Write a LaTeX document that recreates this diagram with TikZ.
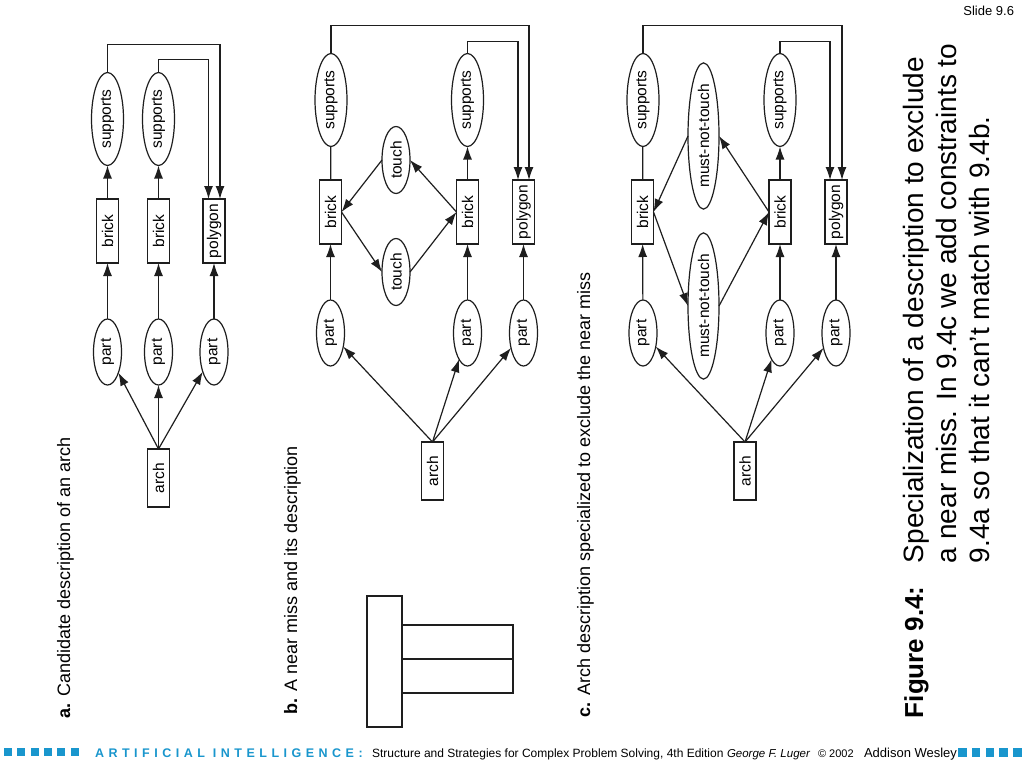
\documentclass[tikz,border=0pt]{standalone}
\usepackage{fontspec}
\setmainfont{Liberation Sans}
\usetikzlibrary{shapes.geometric,arrows.meta}
\definecolor{aiblue}{RGB}{25,150,205}
\definecolor{ln}{RGB}{30,30,30}
\newcommand{\fsz}[1]{\fontsize{#1}{#1}\selectfont}
\begin{document}
\begin{tikzpicture}[x=1pt,y=-1pt,
  every node/.style={inner sep=0pt, outer sep=0pt},
  ell/.style={draw=ln, line width=1.2pt, ellipse, rotate=90, font=\fsz{15.5}},
  sup/.style={ell, minimum width=93pt, minimum height=32pt},
  prt/.style={ell, minimum width=66pt, minimum height=28pt},
  tch/.style={ell, minimum width=67pt, minimum height=28pt},
  mnt/.style={ell, minimum width=131pt, minimum height=31pt},
  bx/.style={draw=ln, line width=1.2pt, rectangle, rotate=90, font=\fsz{15.5}, minimum width=64pt, minimum height=22pt},
  archbox/.style={bx, minimum width=58pt},
  con/.style={draw=ln, line width=1.2pt},
  arr/.style={con, -{Latex[length=13pt,width=9pt]}},
  lbl/.style={rotate=90, anchor=base west, font=\fsz{18}},
  captxt/.style={rotate=90, anchor=base west, font=\fsz{28}},
]
\useasboundingbox (0,0) rectangle (1024,768);
\fill[white] (0,0) rectangle (1024,768);

% ---------------- panel a ----------------
\node[sup] (aS1) at (107.5,119) {supports};
\node[sup] (aS2) at (158.5,119) {supports};
\node[bx] (aB1) at (107.5,231) {brick};
\node[bx] (aB2) at (158.5,231) {brick};
\node[bx] (aPo) at (214,231) {polygon};
\node[prt] (aP1) at (107.5,352) {part};
\node[prt] (aP2) at (158.5,352) {part};
\node[prt] (aP3) at (214,352) {part};
\node[archbox] (aA) at (158.5,478) {arch};
\draw[arr] (aA.east) -- (aP1);
\draw[arr] (aA.east) -- (aP2);
\draw[arr] (aA.east) -- (aP3);
\draw[arr] (aP1) -- (aB1);
\draw[arr] (aP2) -- (aB2);
\draw[arr] (aP3) -- (aPo);
\draw[arr] (aB1) -- (aS1);
\draw[arr] (aB2) -- (aS2);
\draw[arr] (aS1.east) -- ++(0,-28) -| ([xshift=6pt]aPo.east);
\draw[arr] (aS2.east) -- ++(0,-13) -| ([xshift=-5.5pt]aPo.east);

% ---------------- panel b ----------------
\node[sup] (bSL) at (331,100) {supports};
\node[bx] (bBL) at (330.5,212) {brick};
\node[prt] (bPL) at (330.5,333) {part};
\node[tch] (bTU) at (396,160) {touch};
\node[tch] (bTL) at (396,272) {touch};
\node[bx] (bBR) at (467.5,212) {brick};
\node[sup] (bSR) at (467.5,100) {supports};
\node[prt] (bPM) at (467.5,333) {part};
\node[bx] (bPo) at (523.5,212) {polygon};
\node[prt] (bPR) at (523.5,333) {part};
\node[archbox] (bA) at (432.5,471) {arch};
\draw[arr] (bA.east) -- (bPL);
\draw[arr] (bA.east) -- (bPM);
\draw[arr] (bA.east) -- (bPR);
\draw[arr] (bPL) -- (bBL);
\draw[arr] (bPM) -- (bBR);
\draw[arr] (bPR) -- (bPo);
\draw[con] (bBL) -- (bSL);
\draw[arr] (bBR) -- (bSR);
\draw[arr] (bTU.north) -- (bBL.south);
\draw[arr] (bBL.south) -- (bTL.north);
\draw[arr] (bTL.south) -- (bBR.north);
\draw[arr] (bBR.north) -- (bTU.south);
\draw[arr] (bSL.east) -- ++(0,-28) -| ([xshift=5.5pt]bPo.east);
\draw[arr] (bSR.east) -- ++(0,-12) -| ([xshift=-5.5pt]bPo.east);
% near miss
\draw[con] (367,596) rectangle (402,727);
\draw[con] (402,625) rectangle (513,659);
\draw[con] (402,659) rectangle (513,693);

% ---------------- panel c ----------------
\node[sup] (cSL) at (643,100) {supports};
\node[bx] (cBL) at (642.5,212) {brick};
\node[prt] (cPL) at (643,333) {part};
\node[mnt] (cTU) at (703.5,136) {must-not-touch};
\node[mnt] (cTL) at (703.5,306) {must-not-touch};
\node[bx] (cBR) at (780,212) {brick};
\node[sup] (cSR) at (780,100) {supports};
\node[prt] (cPM) at (780,333) {part};
\node[bx] (cPo) at (836,212) {polygon};
\node[prt] (cPR) at (836,333) {part};
\node[archbox] (cA) at (745,471) {arch};
\draw[arr] (cA.east) -- (cPL);
\draw[arr] (cA.east) -- (cPM);
\draw[arr] (cA.east) -- (cPR);
\draw[arr] (cPL) -- (cBL);
\draw[arr] (cPM) -- (cBR);
\draw[arr] (cPR) -- (cPo);
\draw[con] (cBL) -- (cSL);
\draw[arr] (cBR) -- (cSR);
\draw[arr] (cTU.north) -- (cBL.south);
\draw[arr] (cBL.south) -- (cTL.north);
\draw[arr] (cTL.south) -- (cBR.north);
\draw[arr] (cBR.north) -- (cTU.south);
\draw[arr] (cSL.east) -- ++(0,-28) -| ([xshift=6pt]cPo.east);
\draw[arr] (cSR.east) -- ++(0,-12) -| ([xshift=-6pt]cPo.east);

% ---------------- labels ----------------
\node[lbl] (la) at (70,718) {\textbf{a.} Candidate description of an arch};
\node[lbl] (lb) at (297,714) {\textbf{b.} A near miss and its description};
\node[lbl] (lc) at (590,717) {\textbf{c.} Arch description specialized to exclude the near miss};

% ---------------- caption ----------------
\node[captxt, font=\fsz{26}\bfseries] (fig) at (923,718) {Figure 9.4:};
\node[captxt] (c1) at (923,563) {Specialization of a description to exclude};
\node[captxt] (c2) at (956,563) {a near miss. In 9.4c we add constraints to};
\node[captxt] (c3) at (989,563) {9.4a so that it can’t match with 9.4b.};
\node[anchor=base east, font=\fsz{13}] (slide) at (1014,16) {Slide 9.6};

% ---------------- footer ----------------
\foreach \i in {0,...,5} \fill[aiblue] (4+13.3*\i,748) rectangle ++(8,8);
\foreach \i in {0,...,4} \fill[aiblue] (958+13.75*\i,748) rectangle ++(8.5,8.5);
\node[anchor=base west, text=aiblue, font=\fsz{12.5}\bfseries\addfontfeatures{LetterSpace=36}] (ai) at (95,757) {ARTIFICIAL INTELLIGENCE:};
\node[anchor=base west, font=\fsz{12}] (t1) at (372,757) {Structure and Strategies for Complex Problem Solving, 4th Edition};
\node[anchor=base west, font=\fsz{11.5}\itshape] (t2) at (727,757) {George F. Luger};
\node[anchor=base west, font=\fsz{11}] (t3) at (818,757) {© 2002};
\node[anchor=base west, font=\fsz{13}] (t4) at (864,757) {Addison Wesley};
\end{tikzpicture}
\end{document}
